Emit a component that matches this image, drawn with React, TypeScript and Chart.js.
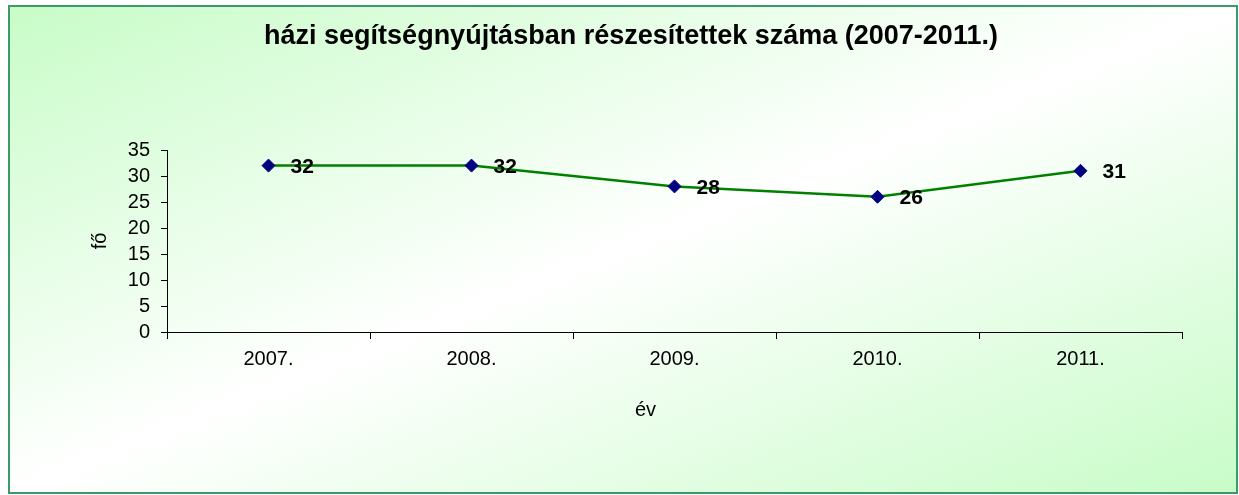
import React, { useEffect, useRef } from "react";
import { Chart, registerables } from "chart.js";

Chart.register(...registerables);

const categories = ["2007.", "2008.", "2009.", "2010.", "2011."];
const values = [32, 32, 28, 26, 31];
const yMin = 0;
const yMax = 35;
const yStep = 5;
const titleText = "házi segítségnyújtásban részesítettek száma (2007-2011.)";
const xTitle = "év";
const yTitle = "fő";

const FONT = "'Liberation Sans', Arial, sans-serif";

const labelsPlugin = {
  id: "valueLabels",
  afterDatasetsDraw(chart: any) {
    const ctx = chart.ctx;
    const meta = chart.getDatasetMeta(0);
    ctx.save();
    ctx.fillStyle = "#000";
    ctx.font = `bold 21px ${FONT}`;
    ctx.textAlign = "left";
    ctx.textBaseline = "alphabetic";
    meta.data.forEach((pt: any, i: number) => {
      ctx.fillText(String(values[i]), pt.x + 22, pt.y + 7.5);
    });
    const xs = chart.scales.x;
    ctx.font = `20px ${FONT}`;
    ctx.textAlign = "center";
    ctx.fillText(xTitle, (xs.left + xs.right) / 2 - 29, 416);
    ctx.restore();
  },
};

export default function App() {
  const ref = useRef<HTMLCanvasElement>(null);

  useEffect(() => {
    if (!ref.current) return;
    const chart = new Chart(ref.current, {
      type: "line",
      data: {
        labels: categories,
        datasets: [
          {
            data: values,
            borderColor: "#008000",
            borderWidth: 2.5,
            backgroundColor: "#000080",
            pointStyle: "rectRot",
            pointRadius: 6.5,
            pointBorderWidth: 1,
            pointBorderColor: "#000080",
            pointBackgroundColor: "#000080",
            tension: 0,
            fill: false,
          },
        ],
      },
      options: {
        animation: false,
        responsive: false,
        maintainAspectRatio: false,
        layout: { padding: { left: 80, right: 57, top: 5, bottom: 83 } },
        plugins: {
          legend: { display: false },
          tooltip: { enabled: false },
          title: {
            display: true,
            text: titleText,
            color: "#000",
            font: { family: FONT, size: 27, weight: "bold" },
            padding: { top: 15.8, bottom: 96.8 },
          },
        },
        scales: {
          x: {
            type: "category",
            offset: true,
            grid: {
              offset: true,
              drawOnChartArea: false,
              drawTicks: true,
              tickLength: 7,
              color: "#000",
            },
            border: { display: true, color: "#000", width: 1 },
            ticks: {
              color: "#000",
              font: { family: FONT, size: 20 },
              padding: 8,
              maxRotation: 0,
              autoSkip: false,
            },
            afterFit: (s: any) => {
              s.height = 80;
            },
          },
          y: {
            min: yMin,
            max: yMax,
            grid: {
              drawOnChartArea: false,
              drawTicks: true,
              tickLength: 6,
              color: "#000",
            },
            border: { display: true, color: "#000", width: 1 },
            ticks: {
              stepSize: yStep,
              color: "#000",
              font: { family: FONT, size: 20 },
              padding: 11,
              autoSkip: false,
            },
            title: {
              display: true,
              text: yTitle,
              color: "#000",
              font: { family: FONT, size: 20 },
              padding: { top: 8, bottom: 0 },
            },
            afterFit: (s: any) => {
              s.width = 87;
            },
          },
        },
      },
      plugins: [labelsPlugin],
    });
    return () => chart.destroy();
  }, []);

  return (
    <div
      style={{
        position: "absolute",
        left: 0,
        top: 0,
        width: 1239,
        height: 495,
        background: "#fff",
      }}
    >
      <div
        style={{
          position: "absolute",
          left: 8,
          top: 5,
          width: 1230,
          height: 489,
          boxSizing: "border-box",
          border: "2px solid #3a9a6a",
          background:
            "linear-gradient(to bottom right, #c8fcc8 0%, #ffffff 50%, #c8fcc8 100%)",
        }}
      />
      <canvas
        ref={ref}
        width={1239}
        height={495}
        style={{ position: "absolute", left: 0, top: 0, width: 1239, height: 495 }}
      />
    </div>
  );
}
